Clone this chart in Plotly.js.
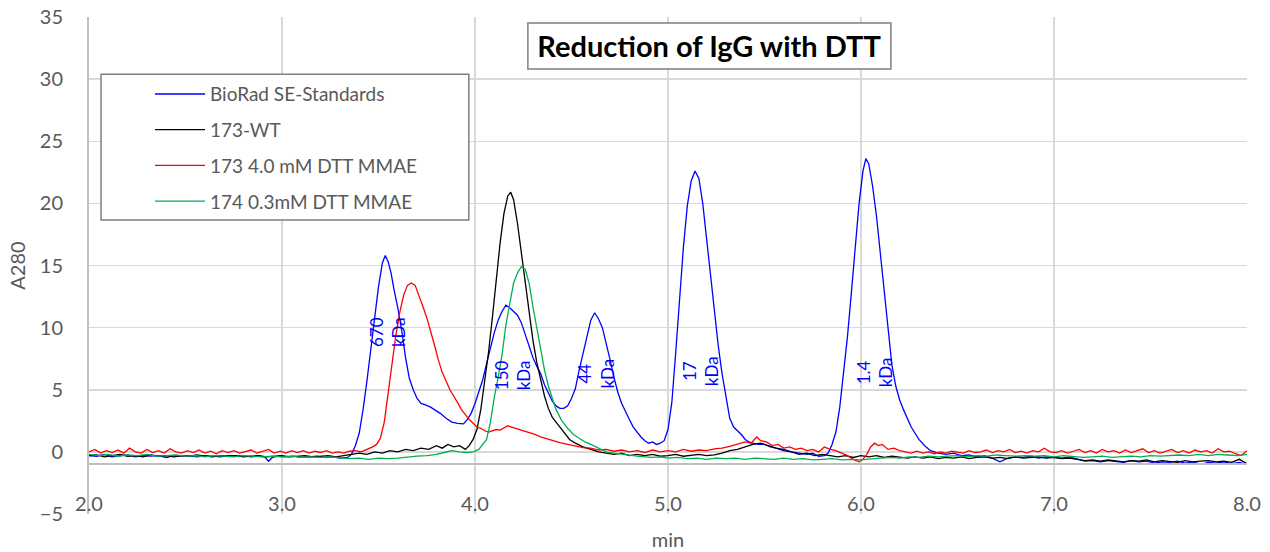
<!DOCTYPE html>
<html>
<head>
<meta charset="utf-8">
<script src="https://cdn.plot.ly/plotly-3.0.1.min.js"></script>
<style>html,body{margin:0;padding:0;background:#fff;}#chart{width:1270px;height:552px;}</style>
</head>
<body>
<div id="chart"></div>
<script>
// ---- data ----
const seriesNames = ['BioRad SE-Standards', '173-WT', '173 4.0 mM DTT MMAE', '174 0.3mM DTT MMAE'];
const massLabels = ['670', '150', '44', '17', '1.4'];
const massUnit = 'kDa';
const chartTitle = 'Reduction of IgG with DTT';
const xTitle = 'min';
const yTitle = 'A280';

const tBlue = [2.00,2.04,2.08,2.12,2.16,2.20,2.24,2.28,2.32,2.36,2.40,2.44,2.48,2.52,2.56,2.60,2.64,2.68,2.72,2.76,2.80,2.84,2.88,2.91,2.93,2.95,2.98,3.02,3.06,3.10,3.14,3.18,3.22,3.26,3.30,3.34,
3.36,3.38,3.40,3.42,3.44,3.46,3.48,3.50,3.52,3.535,3.55,3.565,3.58,3.60,3.62,3.64,3.66,3.68,3.70,3.72,3.74,3.77,3.80,3.82,3.85,3.88,3.91,3.94,3.96,3.98,
4.00,4.02,4.04,4.06,4.08,4.10,4.12,4.14,4.16,4.18,4.20,4.22,4.24,4.26,4.28,4.30,4.32,4.34,4.36,4.38,4.40,4.42,4.44,4.46,4.48,4.50,4.52,4.54,4.56,4.58,4.60,4.62,4.64,4.66,4.68,4.70,4.72,4.74,4.76,4.78,4.80,4.82,4.84,4.86,4.88,4.90,4.92,4.94,4.96,4.98,
5.00,5.02,5.04,5.06,5.08,5.10,5.12,5.14,5.16,5.18,5.20,5.22,5.24,5.26,5.28,5.30,5.32,5.34,5.36,5.38,5.40,5.42,5.44,5.47,5.50,5.53,5.56,5.60,5.64,5.68,5.72,5.75,5.78,5.81,5.83,5.85,5.87,5.89,5.91,5.93,5.95,5.97,5.99,
6.01,6.025,6.04,6.06,6.08,6.10,6.12,6.14,6.16,6.18,6.20,6.22,6.24,6.26,6.28,6.30,6.33,6.36,6.40,6.44,6.48,6.52,6.56,6.60,6.64,6.68,6.72,6.76,6.80,6.84,6.88,6.92,6.96,
7.00,7.04,7.08,7.12,7.16,7.20,7.24,7.28,7.32,7.36,7.40,7.44,7.48,7.52,7.56,7.60,7.64,7.68,7.72,7.76,7.80,7.84,7.88,7.92,7.96,8.00];
const yBlue = [-0.3,-0.35,-0.2,-0.4,-0.3,-0.25,-0.4,-0.3,-0.35,-0.3,-0.45,-0.3,-0.35,-0.3,-0.4,-0.3,-0.35,-0.4,-0.3,-0.35,-0.3,-0.4,-0.35,-0.4,-0.75,-0.45,-0.35,-0.4,-0.35,-0.45,-0.4,-0.35,-0.45,-0.4,-0.5,-0.45,
-0.2,0.5,1.5,3.4,5.7,8.2,10.8,13.3,15.2,15.8,15.3,14.4,13.1,11.6,9.8,7.6,5.9,5.0,4.3,3.9,3.8,3.6,3.3,3.1,2.7,2.4,2.3,2.25,2.6,3.1,
3.9,4.8,5.8,7.1,8.4,9.6,10.6,11.3,11.8,11.6,11.3,11.0,10.4,9.4,8.4,7.6,6.9,6.3,5.4,4.7,4.1,3.7,3.5,3.5,3.7,4.3,5.1,6.6,8.0,9.4,10.6,11.2,10.7,10.0,8.8,7.4,6.0,4.8,3.9,3.2,2.6,2.0,1.6,1.2,0.9,0.7,0.8,0.6,0.7,0.9,
1.8,4.0,8.0,12.5,16.5,19.8,21.8,22.6,22.0,20.0,17.2,14.2,11.2,8.6,6.3,4.4,2.7,2.0,1.7,1.4,1.0,0.8,0.7,0.6,0.6,0.4,0.3,0.2,0.0,-0.1,-0.2,-0.1,-0.35,-0.3,-0.1,0.6,1.6,3.6,6.3,9.3,12.8,16.5,20.0,
22.6,23.6,23.2,21.4,19.0,16.0,12.6,9.6,7.0,5.3,4.2,3.4,2.7,2.0,1.5,1.0,0.5,0.1,-0.1,-0.2,-0.1,-0.3,-0.25,-0.4,-0.3,-0.5,-0.8,-0.5,-0.4,-0.45,-0.35,-0.5,-0.4,
-0.45,-0.5,-0.4,-0.6,-0.75,-0.7,-0.8,-0.7,-0.75,-0.85,-0.7,-0.8,-0.75,-0.9,-0.8,-0.85,-0.75,-0.9,-0.8,-1.0,-0.85,-0.9,-0.8,-0.95,-0.85,-1.0];

const tBlack = [2.00,2.04,2.08,2.12,2.16,2.20,2.24,2.28,2.32,2.36,2.40,2.44,2.48,2.52,2.56,2.60,2.64,2.68,2.72,2.76,2.80,2.84,2.88,2.92,2.96,3.00,3.04,3.08,3.12,3.16,3.20,3.24,3.28,3.32,3.36,3.40,3.44,3.48,3.52,3.56,3.60,3.64,3.68,3.72,3.76,3.80,3.83,3.86,3.89,3.92,3.95,3.97,3.99,
4.01,4.03,4.05,4.07,4.09,4.11,4.13,4.15,4.17,4.185,4.20,4.22,4.24,4.26,4.28,4.30,4.32,4.34,4.36,4.38,4.40,4.43,4.46,4.49,4.52,4.56,4.60,4.64,4.68,4.72,4.76,4.80,4.84,4.88,4.92,4.96,
5.00,5.04,5.08,5.12,5.16,5.20,5.24,5.28,5.32,5.36,5.40,5.44,5.48,5.52,5.56,5.60,5.64,5.68,5.72,5.76,5.80,5.84,5.88,5.92,5.96,
6.00,6.04,6.08,6.12,6.16,6.20,6.24,6.28,6.32,6.36,6.40,6.44,6.48,6.52,6.56,6.60,6.64,6.68,6.72,6.76,6.80,6.84,6.88,6.92,6.96,
7.00,7.04,7.08,7.12,7.16,7.20,7.24,7.28,7.32,7.36,7.40,7.44,7.48,7.52,7.56,7.60,7.64,7.68,7.72,7.76,7.80,7.84,7.88,7.92,7.96,8.00];
const yBlack = [-0.3,-0.25,-0.4,-0.3,-0.2,-0.35,-0.3,-0.4,-0.25,-0.35,-0.3,-0.4,-0.3,-0.35,-0.25,-0.35,-0.4,-0.3,-0.35,-0.3,-0.4,-0.35,-0.3,-0.4,-0.35,-0.3,-0.4,-0.35,-0.3,-0.4,-0.35,-0.3,-0.4,-0.3,-0.25,-0.1,-0.2,0.0,-0.1,0.1,0.0,0.2,0.1,0.3,0.2,0.5,0.3,0.6,0.4,0.5,0.2,0.5,1.0,
1.8,3.4,5.6,8.0,10.8,13.8,16.8,19.2,20.6,20.9,20.3,18.4,16.0,13.6,11.2,9.0,7.2,5.8,4.5,3.5,2.8,2.2,1.6,1.0,0.7,0.4,0.2,0.0,-0.1,-0.2,-0.1,-0.3,-0.2,-0.3,-0.2,-0.35,
-0.3,-0.2,-0.35,-0.3,-0.2,-0.3,-0.25,-0.1,0.1,0.2,0.4,0.6,0.7,0.5,0.3,0.1,0.0,-0.2,-0.1,-0.3,-0.2,-0.3,-0.4,-0.3,-0.45,
-0.3,-0.4,-0.3,-0.45,-0.35,-0.4,-0.5,-0.4,-0.5,-0.4,-0.55,-0.45,-0.5,-0.4,-0.55,-0.45,-0.4,-0.5,-0.45,-0.55,-0.4,-0.5,-0.45,-0.4,-0.5,
-0.45,-0.55,-0.5,-0.6,-0.7,-0.65,-0.75,-0.65,-0.7,-0.8,-0.7,-0.75,-0.65,-0.8,-0.7,-0.75,-0.85,-0.7,-0.8,-0.75,-0.7,-0.8,-0.75,-0.85,-0.6,-0.95];

const tRed = [2.00,2.03,2.06,2.09,2.12,2.15,2.18,2.21,2.24,2.27,2.30,2.33,2.36,2.39,2.42,2.45,2.48,2.51,2.54,2.57,2.60,2.63,2.66,2.69,2.72,2.75,2.78,2.81,2.84,2.87,2.90,2.93,2.96,2.99,3.02,3.05,3.08,3.11,3.14,3.17,3.20,3.23,3.26,3.29,3.32,3.35,3.38,3.41,3.44,3.47,3.49,
3.51,3.53,3.55,3.57,3.59,3.61,3.63,3.65,3.67,3.69,3.71,3.73,3.75,3.77,3.79,3.81,3.83,3.85,3.87,3.89,3.91,3.93,3.95,3.97,3.99,
4.01,4.03,4.05,4.07,4.09,4.11,4.13,4.15,4.17,4.19,4.21,4.23,4.25,4.28,4.31,4.34,4.37,4.40,4.44,4.48,4.52,4.56,4.60,4.64,4.68,4.72,4.76,4.80,4.84,4.88,4.92,4.96,
5.00,5.04,5.08,5.12,5.16,5.20,5.24,5.28,5.32,5.36,5.40,5.43,5.46,5.48,5.51,5.54,5.57,5.60,5.63,5.66,5.69,5.72,5.75,5.78,5.81,5.84,5.87,5.90,5.93,5.96,5.99,
6.01,6.03,6.05,6.07,6.09,6.11,6.14,6.17,6.20,6.23,6.26,6.29,6.32,6.35,6.38,6.41,6.44,6.47,6.50,6.53,6.56,6.59,6.62,6.65,6.68,6.71,6.74,6.77,6.80,6.83,6.86,6.89,6.92,6.95,6.98,
7.01,7.04,7.07,7.10,7.13,7.16,7.19,7.22,7.25,7.28,7.31,7.34,7.37,7.40,7.43,7.46,7.49,7.52,7.55,7.58,7.61,7.64,7.67,7.70,7.73,7.76,7.79,7.82,7.85,7.88,7.91,7.94,7.97,8.00];
const yRed = [0.0,0.2,-0.1,0.1,-0.05,0.15,-0.1,0.3,0.0,-0.1,0.2,-0.05,0.1,-0.1,0.25,0.0,-0.1,0.1,-0.05,0.15,-0.1,0.05,-0.15,0.1,-0.05,0.1,-0.1,0.0,0.15,-0.1,0.05,0.2,-0.1,0.05,-0.1,0.1,-0.05,0.1,-0.1,0.05,-0.05,0.1,-0.1,0.0,-0.1,0.05,0.1,0.0,0.2,0.4,0.6,
1.1,2.4,4.8,7.4,9.4,11.2,12.6,13.4,13.6,13.4,12.6,11.7,10.8,9.8,8.6,7.4,6.4,5.7,5.0,4.5,3.9,3.4,3.0,2.6,2.3,
2.0,1.9,1.7,1.6,1.7,1.8,1.75,1.9,2.1,2.0,1.9,1.85,1.7,1.55,1.4,1.2,1.05,0.9,0.75,0.6,0.45,0.35,0.3,0.15,0.2,0.05,0.15,0.0,0.1,-0.05,0.15,0.0,
0.1,0.0,0.2,0.05,0.15,0.1,0.25,0.3,0.45,0.6,0.8,0.7,1.2,0.9,0.8,0.5,0.6,0.3,0.4,0.2,0.3,0.1,0.2,0.0,0.4,0.2,0.1,-0.1,-0.3,-0.6,-0.8,
-0.6,-0.2,0.4,0.7,0.5,0.6,0.2,0.3,0.1,0.0,-0.1,0.05,-0.1,0.0,-0.15,0.0,-0.1,0.05,0.0,-0.1,0.1,-0.05,0.0,0.15,-0.05,0.1,0.0,0.2,-0.05,0.05,-0.1,0.1,0.0,0.3,0.0,
-0.05,0.1,-0.1,0.05,0.2,-0.05,0.1,-0.1,0.2,0.0,0.1,-0.1,0.15,-0.05,0.1,0.25,-0.05,0.1,-0.1,0.05,0.2,-0.05,0.1,-0.1,0.15,0.0,0.1,-0.1,0.25,0.0,0.05,-0.15,-0.3,0.1];

const tGreen = [2.00,2.05,2.10,2.15,2.20,2.25,2.30,2.35,2.40,2.45,2.50,2.55,2.60,2.65,2.70,2.75,2.80,2.85,2.90,2.95,3.00,3.05,3.10,3.15,3.20,3.25,3.30,3.35,3.40,3.45,3.50,3.55,3.60,3.65,3.70,3.75,3.80,3.84,3.88,3.92,3.96,3.99,
4.02,4.04,4.06,4.08,4.10,4.12,4.14,4.16,4.18,4.20,4.22,4.24,4.26,4.28,4.30,4.32,4.34,4.36,4.38,4.40,4.42,4.45,4.48,4.51,4.54,4.57,4.60,4.64,4.68,4.72,4.76,4.80,4.84,4.88,4.92,4.96,
5.00,5.05,5.10,5.15,5.20,5.25,5.30,5.35,5.40,5.45,5.50,5.55,5.60,5.65,5.70,5.75,5.80,5.85,5.90,5.95,
6.00,6.05,6.10,6.15,6.20,6.25,6.30,6.35,6.40,6.45,6.50,6.55,6.60,6.65,6.70,6.75,6.80,6.85,6.90,6.95,
7.00,7.05,7.10,7.15,7.20,7.25,7.30,7.35,7.40,7.45,7.50,7.55,7.60,7.65,7.70,7.75,7.80,7.85,7.90,7.95,8.00];
const yGreen = [-0.2,-0.3,-0.2,-0.35,-0.25,-0.3,-0.2,-0.35,-0.3,-0.25,-0.35,-0.3,-0.4,-0.3,-0.35,-0.4,-0.3,-0.35,-0.4,-0.35,-0.4,-0.35,-0.45,-0.4,-0.45,-0.4,-0.5,-0.55,-0.5,-0.6,-0.5,-0.55,-0.5,-0.4,-0.35,-0.3,-0.2,-0.05,0.1,0.0,-0.05,0.0,
0.2,0.6,1.0,2.4,4.4,6.0,7.8,10.2,12.0,13.6,14.4,14.9,14.7,13.6,11.7,9.9,8.2,6.6,5.3,4.4,3.4,2.5,1.9,1.4,1.1,0.8,0.6,0.3,0.0,-0.1,-0.2,-0.25,-0.35,-0.4,-0.45,-0.4,
-0.5,-0.45,-0.55,-0.5,-0.6,-0.5,-0.55,-0.5,-0.6,-0.5,-0.55,-0.6,-0.5,-0.6,-0.55,-0.65,-0.6,-0.55,-0.65,-0.6,
-0.65,-0.55,-0.5,-0.45,-0.5,-0.4,-0.45,-0.35,-0.4,-0.35,-0.3,-0.4,-0.3,-0.35,-0.25,-0.3,-0.35,-0.3,-0.35,-0.3,
-0.4,-0.3,-0.35,-0.45,-0.4,-0.35,-0.45,-0.4,-0.35,-0.4,-0.3,-0.35,-0.3,-0.25,-0.3,-0.2,-0.3,-0.2,-0.25,-0.3,-0.2];

// ---- drawing ----
const FONT = 'Lato, "Open Sans", sans-serif';
const GREY = '#595959';
const colors = ['#0000ff', '#000000', '#ff0000', '#00b050'];
const xs = [tBlue, tBlack, tRed, tGreen];
const ys = [yBlue, yBlack, yRed, yGreen];

const traces = seriesNames.map((n, i) => ({
  type: 'scatter', mode: 'lines', name: n, x: xs[i], y: ys[i],
  legendgroup: 'g' + i,
  line: {color: colors[i], width: 1.3},
  hoverinfo: 'x+y+name'
}));

const labelPos = [[3.55, 9.65], [4.194, 6.2], [4.627, 6.3], [5.166, 6.5], [6.067, 6.4]];
const annotations = massLabels.map((m, i) => ({
  x: labelPos[i][0], y: labelPos[i][1], xref: 'x', yref: 'y',
  text: m + '<br>' + massUnit, showarrow: false, textangle: -90,
  xanchor: 'center', yanchor: 'middle', align: 'center',
  font: {family: FONT, size: 17, color: '#0000ff'}
}));

const layout = {
  width: 1270, height: 552,
  margin: {l: 89, r: 23, t: 17, b: 38},
  paper_bgcolor: '#ffffff', plot_bgcolor: '#ffffff',
  font: {family: FONT, color: GREY},
  showlegend: true,
  title: {
    text: chartTitle, xref: 'container', yref: 'container',
    x: 0.5583, xanchor: 'center', y: 0.9158, yanchor: 'middle',
    font: {family: FONT, size: 29, color: '#000000', weight: 700}
  },
  xaxis: {
    range: [2, 8], tick0: 2, dtick: 1, tickformat: '.1f',
    anchor: 'free', position: 0.1,
    showgrid: true, gridcolor: '#d9d9d9', gridwidth: 1.5,
    zeroline: false, showline: true, linecolor: '#bfbfbf', linewidth: 2,
    ticks: '', ticklabelstandoff: 22,
    tickfont: {family: FONT, size: 20, color: GREY},
    title: {text: xTitle, standoff: 18, font: {family: FONT, size: 20, color: GREY}}
  },
  yaxis: {
    range: [-5, 35], tick0: -5, dtick: 5,
    showgrid: true, gridcolor: '#d9d9d9', gridwidth: 1.5,
    zeroline: false, showline: true, linecolor: '#bfbfbf', linewidth: 2,
    ticks: '', ticklabelstandoff: 20,
    tickfont: {family: FONT, size: 20, color: GREY},
    title: {text: yTitle, standoff: 9, font: {family: FONT, size: 20, color: GREY}}
  },
  legend: {
    x: 0.0527, xanchor: 'left', y: 0.883, yanchor: 'top',
    bgcolor: 'rgba(0,0,0,0)', borderwidth: 0,
    itemwidth: 50, tracegroupgap: 8, traceorder: 'grouped',
    font: {family: FONT, size: 19, color: GREY}
  },
  shapes: [
    {type: 'rect', xref: 'paper', yref: 'paper', x0: 0.0104, x1: 0.328, y0: 0.5915, y1: 0.885,
     fillcolor: '#ffffff', line: {color: '#7f7f7f', width: 1.5}, layer: 'above'},
    {type: 'rect', xref: 'paper', yref: 'paper', x0: 0.379, x1: 0.6925, y0: 0.8954, y1: 0.988,
     fillcolor: '#ffffff', line: {color: '#7f7f7f', width: 1.5}, layer: 'above'}
  ],
  annotations: annotations
};

Plotly.newPlot('chart', traces, layout, {displayModeBar: false, staticPlot: true});
</script>
</body>
</html>
